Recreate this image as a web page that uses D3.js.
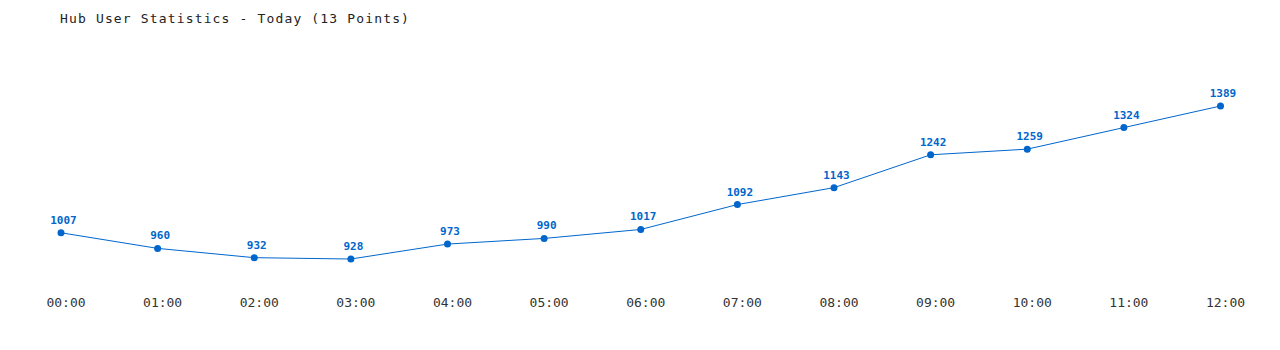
<!DOCTYPE html>
<html><head><meta charset="utf-8">
<script src="https://cdn.jsdelivr.net/npm/d3@7"></script>
<style>body{margin:0;background:#fff}</style>
</head><body>
<svg id="c" width="1280" height="350"></svg>
<script>
const categories = ["00:00","01:00","02:00","03:00","04:00","05:00","06:00","07:00","08:00","09:00","10:00","11:00","12:00"];
const users = [1007,960,932,928,973,990,1017,1092,1143,1242,1259,1324,1389];
const title = "Hub User Statistics - Today (13 Points)";

const svg = d3.select("#c");
const font = "'DejaVu Sans Mono', 'Liberation Mono', monospace";
const x = d3.scalePoint().domain(categories).range([61, 1220.5]);
const y = d3.scaleLinear().domain([d3.min(users), d3.max(users)]).range([259, 106]);
const color = "#0066cc";

svg.append("text").attr("x", 60).attr("y", 23).attr("font-family", font).attr("font-size", 13)
  .attr("letter-spacing", 1.15).attr("fill", "#222").text(title);

const xAxis = d3.axisBottom(x).tickSize(0).tickPadding(0);
const g = svg.append("g").attr("transform", "translate(4.5,298)").call(xAxis);
g.select(".domain").remove();
g.selectAll("text").attr("font-family", font).attr("font-size", 13).attr("fill", "#333").attr("dy", "0.71em");

const data = categories.map((c, i) => ({c, v: users[i]}));
svg.append("path").datum(data)
  .attr("d", d3.line().x(d => x(d.c)).y(d => y(d.v)))
  .attr("fill", "none").attr("stroke", color).attr("stroke-width", 1);
svg.selectAll("circle.p").data(data).join("circle")
  .attr("cx", d => x(d.c)).attr("cy", d => y(d.v)).attr("r", 3.5).attr("fill", color);
svg.selectAll("text.lbl").data(data).join("text")
  .attr("x", d => x(d.c) + 2.5).attr("y", d => y(d.v) - 9)
  .attr("text-anchor", "middle").attr("font-family", font).attr("font-size", 11)
  .attr("font-weight", "bold").attr("fill", color).text(d => d.v);
</script>
</body></html>
